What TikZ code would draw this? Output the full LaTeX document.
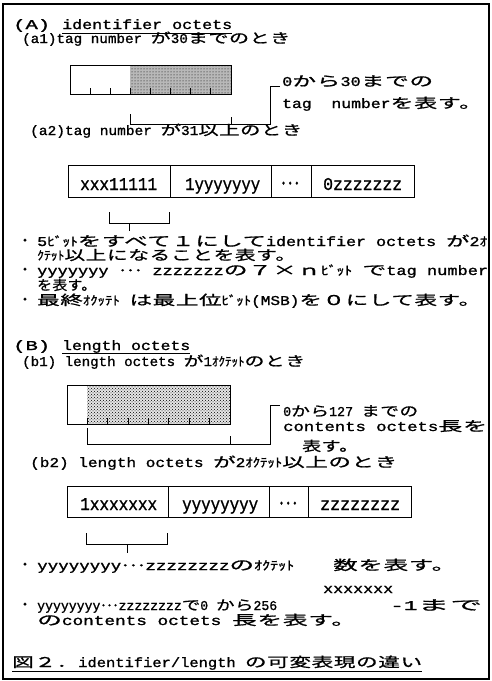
\documentclass[tikz,border=0pt]{standalone}
\usepackage{fontspec}
\usepackage{graphicx}
\setmainfont{Liberation Mono}[FakeBold=1.2]
\newfontfamily\jp{Noto Sans CJK JP}[FakeStretch=1.4, LetterSpace=4, FakeBold=1.0]
\newfontfamily\jk{Noto Sans CJK JP}[Scale=0.92, FakeBold=1.0]
\newfontfamily\jq{Noto Sans CJK JP}[FakeBold=1.0]
\usetikzlibrary{patterns,calc}
\newcommand\J[1]{{\jp #1}}
\newcommand\K[1]{{\jk #1}}
\newsavebox\fwbox
\newcommand\fw[2]{\sbox\fwbox{#2}\pgfmathsetmacro\fwr{#1/\wd\fwbox}\scalebox{\fwr}[1]{\usebox\fwbox}}
\begin{document}
\begin{tikzpicture}[x=1pt,y=-1pt,
  txt/.style={anchor=base west, inner sep=0pt, font=\fontsize{13.5}{13.5}\selectfont},
  lbl/.style={anchor=base west, inner sep=0pt, font=\fontsize{18}{18}\selectfont},
  bul/.style={anchor=center, inner sep=0pt, font=\fontsize{14}{14}\selectfont},
  cell/.style={draw, line width=0.9pt, anchor=north west, inner sep=0pt},
  brk/.style={line width=0.9pt},
  uline/.style={line width=1pt}]
\useasboundingbox (0,0) rectangle (492,681);
\draw[line width=1.2pt] (3,4) rectangle (489,679);

% ---------- (A) ----------
\node[txt] (hA) at (13,29) {\fw{37}{(A)}};
\node[txt] (hAt) at (62,29) {\fw{170}{identifier octets}};
\draw[uline] ($(hAt.base west)+(0,4)$) -- ($(hAt.base east)+(0,4)$);
\node[txt] (a1) at (22,43) {\fw{268}{(a1)tag number \J{が}30\J{までのとき}}};

% a1 box
\fill[black!28] (130,65) rectangle (231,94);
\fill[pattern=dots, pattern color=black] (130,65) rectangle (231,94);
\node[cell, minimum width=161, minimum height=29] (a1box) at (70,65) {};
\foreach \k in {1,...,7}
  \draw[line width=0.8pt] ($(a1box.south west)+(\k*20.125,0)$) -- ++(0,-7);
\coordinate (a1p) at (130,114);
\coordinate (a1q) at (130,124);
\coordinate (a1r) at (270,124);
\coordinate (a1s) at (270,86);
\coordinate (a1t) at (280,86);
\coordinate (a1m) at (231,124);
\draw[brk] (a1p) -- (a1q) -- (a1r) -- (a1s) -- (a1t);
\draw[brk] (a1m) -- ++(0,-7);
\node[txt] (r1) at (282,86) {\fw{151}{0\J{から}30\J{までの}}};
\node[txt] (r2) at (282,108) {\fw{200}{tag~~number\J{を表す。}}};

\node[txt] (a2) at (30,135) {\fw{272}{(a2)tag number \J{が}31\J{以上のとき}}};
% a2 cells
\node[cell, minimum width=102, minimum height=32] (a2c1) at (68,165) {};
\node[cell, minimum width=101, minimum height=32] (a2c2) at (170,165) {};
\node[cell, minimum width=40, minimum height=32] (a2c3) at (271,165) {};
\node[cell, minimum width=103, minimum height=32] (a2c4) at (311,165) {};
\node[lbl] (a2l1) at (80,190) {\fw{77}{xxx11111}};
\node[lbl] (a2l2) at (185,190) {\fw{75}{1yyyyyyy}};
\node[lbl] (a2l3) at (280,190) {\fw{20}{{\jq ･･･}}};
\node[lbl] (a2l4) at (323,190) {\fw{79}{0zzzzzzz}};
\coordinate (a2p) at (109,212);
\coordinate (a2q) at (109,223);
\coordinate (a2r) at (169,223);
\coordinate (a2s) at (169,212);
\coordinate (a2m) at (129,223);
\draw[brk] (a2p) -- (a2q) -- (a2r) -- (a2s);
\draw[brk] (a2m) -- ++(0,8);

% bullets A
\node[bul] (bA1) at (25,242) {{\jq ・}};
\node[txt] (tA1) at (37,246) {\fw{450}{5\K{ﾋﾞｯﾄ}\J{をすべて１にして}identifier octets \J{が}2\K{ｵ}}};
\node[txt] (tA2) at (37,260) {\fw{259}{\K{ｸﾃｯﾄ}\J{以上になることを表す。}}};
\node[bul] (bA2) at (25,271) {{\jq ・}};
\node[txt] (tA3) at (37,275) {\fw{451}{yyyyyyy \K{･･･} zzzzzzz\J{の７×ｎ}\K{ﾋﾞｯﾄ} \J{で}tag number}};
\node[txt] (tA4) at (37,290) {\fw{59}{\J{を表す。}}};
\node[bul] (bA3) at (25,301) {{\jq ・}};
\node[txt] (tA5) at (37,305) {\fw{444}{\J{最終}\K{ｵｸｯﾃﾄ} \J{は最上位}\K{ﾋﾞｯﾄ}(MSB)\J{を０にして表す。}}};

% ---------- (B) ----------
\node[txt] (hB) at (13,350) {\fw{37}{(B)}};
\node[txt] (hBt) at (62,350) {\fw{128}{length octets}};
\draw[uline] ($(hBt.base west)+(0,3.5)$) -- ($(hBt.base east)+(0,3.5)$);
\node[txt] (b1) at (22,366) {\fw{283}{(b1) length octets \J{が}1\K{ｵｸﾃｯﾄ}\J{のとき}}};

% b1 box
\fill[black!10] (87,385) rectangle (230,424);
\fill[pattern=crosshatch dots, pattern color=black] (87,385) rectangle (230,424);
\node[cell, minimum width=163, minimum height=39] (b1box) at (67,385) {};
\foreach \k in {1,...,7}
  \draw[line width=0.8pt] ($(b1box.south west)+(\k*20.375,0)$) -- ++(0,-7);
\coordinate (b1p) at (87,428);
\coordinate (b1q) at (87,444);
\coordinate (b1r) at (270,444);
\coordinate (b1s) at (270,405);
\coordinate (b1t) at (280,405);
\coordinate (b1m) at (230,444);
\draw[brk] (b1p) -- (b1q) -- (b1r) -- (b1s) -- (b1t);
\draw[brk] (b1m) -- ++(0,-8);
\node[txt] (s1) at (283,416) {\fw{135}{0\J{から}127 \J{までの}}};
\node[txt] (s2) at (283,431) {\fw{204}{contents octets\J{長を}}};
\node[txt] (s3) at (302,451) {\fw{56}{\J{表す。}}};

\node[txt] (b2) at (30,467) {\fw{367}{(b2) length octets \J{が}2\K{ｵｸﾃｯﾄ}\J{以上のとき}}};
% b2 cells
\node[cell, minimum width=101, minimum height=31] (b2c1) at (67,486) {};
\node[cell, minimum width=101, minimum height=31] (b2c2) at (168,486) {};
\node[cell, minimum width=39, minimum height=31] (b2c3) at (269,486) {};
\node[cell, minimum width=103, minimum height=31] (b2c4) at (308,486) {};
\node[lbl] (b2l1) at (80,510) {\fw{77}{1xxxxxxx}};
\node[lbl] (b2l2) at (182,510) {\fw{76}{yyyyyyyy}};
\node[lbl] (b2l3) at (278,510) {\fw{20}{{\jq ･･･}}};
\node[lbl] (b2l4) at (320,510) {\fw{80}{zzzzzzzz}};
\coordinate (b2p) at (86,533);
\coordinate (b2q) at (86,544);
\coordinate (b2r) at (167,544);
\coordinate (b2s) at (167,533);
\coordinate (b2m) at (127,544);
\draw[brk] (b2p) -- (b2q) -- (b2r) -- (b2s);
\draw[brk] (b2m) -- ++(0,9);

% bullets B
\node[bul] (bB1) at (25,566) {{\jq ・}};
\node[txt] (tB1) at (37,570) {\fw{419}{yyyyyyyy\K{･･･}zzzzzzzz\J{の}\K{ｵｸﾃｯﾄ}\hspace{30pt}\J{数を表す。}}};
\node[txt] (tBx) at (323,593) {\fw{70}{xxxxxxx}};
\node[bul] (bB2) at (25,606) {{\jq ・}};
\node[txt] (tB2) at (37,610) {\fw{240}{yyyyyyyy\K{･･･}zzzzzzzz\J{で}0 \J{から}256}};
\node[txt] (tB3) at (390,610) {\fw{92}{-1\J{まで}}};
\node[txt] (tB4) at (37,625) {\fw{319}{\J{の}contents octets \J{長を表す。}}};

% caption
\node[txt] (cap) at (12,667) {\fw{410}{\J{図２．}identifier/length \J{の可変表現の違い}}};
\draw[uline] ($(cap.base west)+(0,4)$) -- ($(cap.base east)+(0,4)$);
\end{tikzpicture}
\end{document}
